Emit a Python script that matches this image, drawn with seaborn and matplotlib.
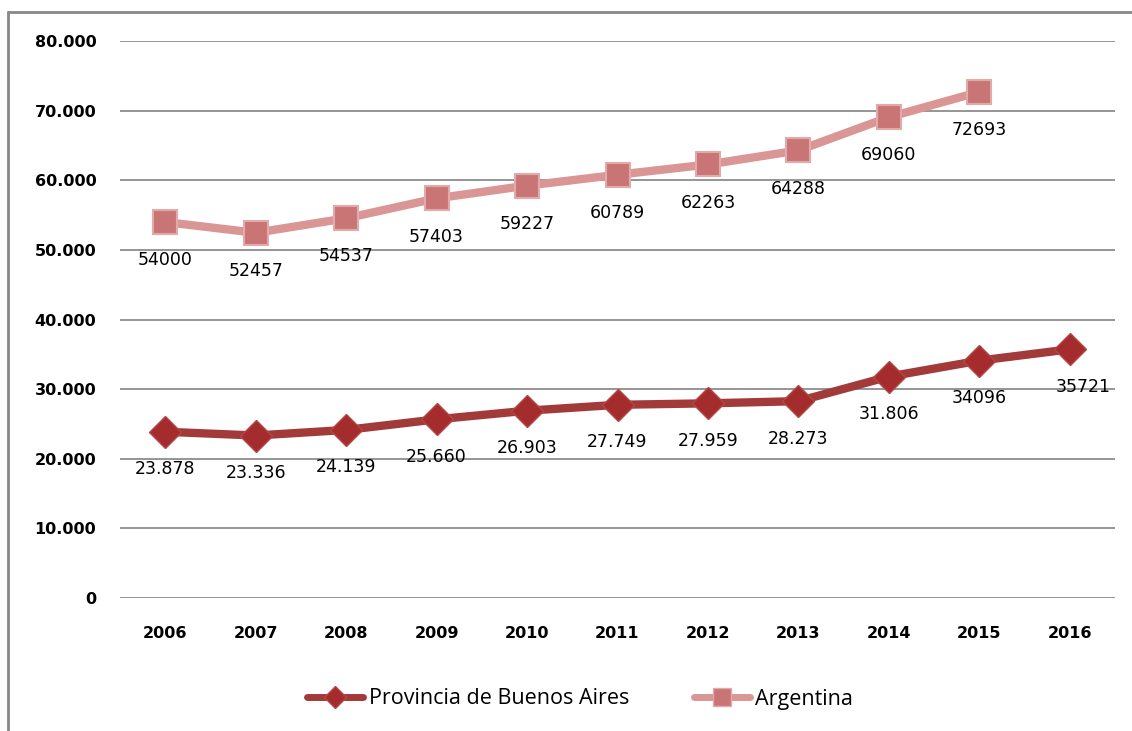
import matplotlib
matplotlib.use("Agg")
import matplotlib.pyplot as plt
from matplotlib.lines import Line2D
import seaborn as sns
import pandas as pd

years = [2006, 2007, 2008, 2009, 2010, 2011, 2012, 2013, 2014, 2015, 2016]
provincia = [23878, 23336, 24139, 25660, 26903, 27749, 27959, 28273, 31806, 34096, 35721]
argentina_years = [2006, 2007, 2008, 2009, 2010, 2011, 2012, 2013, 2014, 2015]
argentina = [54000, 52457, 54537, 57403, 59227, 60789, 62263, 64288, 69060, 72693]
provincia_labels = ["23.878", "23.336", "24.139", "25.660", "26.903", "27.749",
                    "27.959", "28.273", "31.806", "34096", "35721"]
argentina_labels = ["54000", "52457", "54537", "57403", "59227", "60789",
                    "62263", "64288", "69060", "72693"]
yticks = [0, 10000, 20000, 30000, 40000, 50000, 60000, 70000, 80000]
ytick_labels = ["0", "10.000", "20.000", "30.000", "40.000", "50.000",
                "60.000", "70.000", "80.000"]
series_names = ["Provincia de Buenos Aires", "Argentina"]

sns.set_style("white")
plt.rcParams['font.family'] = ['DejaVu Sans']
plt.rcParams['text.color'] = '#000000'
plt.rcParams['xtick.color'] = '#000000'
plt.rcParams['ytick.color'] = '#000000'

fig = plt.figure(figsize=(11.32, 7.31), dpi=100)
ax = fig.add_axes([120 / 1132, (731 - 598) / 731, (1115 - 120) / 1132, (598 - 41) / 731])

df_p = pd.DataFrame({"year": years, "value": provincia})
df_a = pd.DataFrame({"year": argentina_years, "value": argentina})

prov_color = "#A33A3A"
arg_line = "#D99694"
sns.lineplot(data=df_p, x="year", y="value", ax=ax, color=prov_color, linewidth=6,
             marker="D", markersize=16, markerfacecolor="#A52C2C",
             markeredgecolor="#B54545", markeredgewidth=1, zorder=3)
sns.lineplot(data=df_a, x="year", y="value", ax=ax, color=arg_line, linewidth=6,
             marker="s", markersize=17, markerfacecolor="#C97575",
             markeredgecolor="#E3AAAA", markeredgewidth=1.5, zorder=3)

for x, v, lab in zip(years, provincia, provincia_labels):
    dx = 10 if x == 2016 else 0
    ax.annotate(lab, (x, v), xytext=(dx, -27), textcoords="offset points",
                ha="center", va="center", fontsize=12.5, color="#000000")
for x, v, lab in zip(argentina_years, argentina, argentina_labels):
    ax.annotate(lab, (x, v), xytext=(0, -27.5), textcoords="offset points",
                ha="center", va="center", fontsize=12.5, color="#000000")

ax.set_xlim(2005.5, 2016.5)
ax.set_ylim(0, 80000)
ax.set_yticks(yticks)
ax.set_yticklabels(ytick_labels, fontsize=11.5, fontweight="bold")
ax.set_xticks(years)
ax.set_xticklabels([str(y) for y in years], fontsize=11.5, fontweight="bold")
ax.tick_params(axis="y", length=0, pad=17)
ax.tick_params(axis="x", length=0, pad=20)
ax.yaxis.grid(True, color="#8C8C8C", linewidth=1.3)
ax.xaxis.grid(False)
for s in ax.spines.values():
    s.set_visible(False)
ax.set_xlabel("")
ax.set_ylabel("")

# outer chart frame (top and left edges)
fig.add_artist(Line2D([8 / 1132, 8 / 1132], [0, (731 - 12) / 731], transform=fig.transFigure,
                      color="#888888", linewidth=2))
fig.add_artist(Line2D([8 / 1132, 1], [(731 - 12) / 731, (731 - 12) / 731], transform=fig.transFigure,
                      color="#888888", linewidth=2))

handles = [
    Line2D([], [], color=prov_color, linewidth=5, marker="D", markersize=11,
           markerfacecolor="#A52C2C", markeredgecolor="#B54545"),
    Line2D([], [], color=arg_line, linewidth=5, marker="s", markersize=13,
           markerfacecolor="#C97575", markeredgecolor="#E3AAAA"),
]
fig.legend(handles, series_names, loc="center", bbox_to_anchor=(580 / 1132, (731 - 699) / 731),
           ncol=2, frameon=False, prop={"family": "Open Sans", "size": 15.5},
           labelcolor="#000000",
           handlelength=2.6, columnspacing=3.0, handletextpad=0.25)

fig.savefig("out.png", dpi=100)
